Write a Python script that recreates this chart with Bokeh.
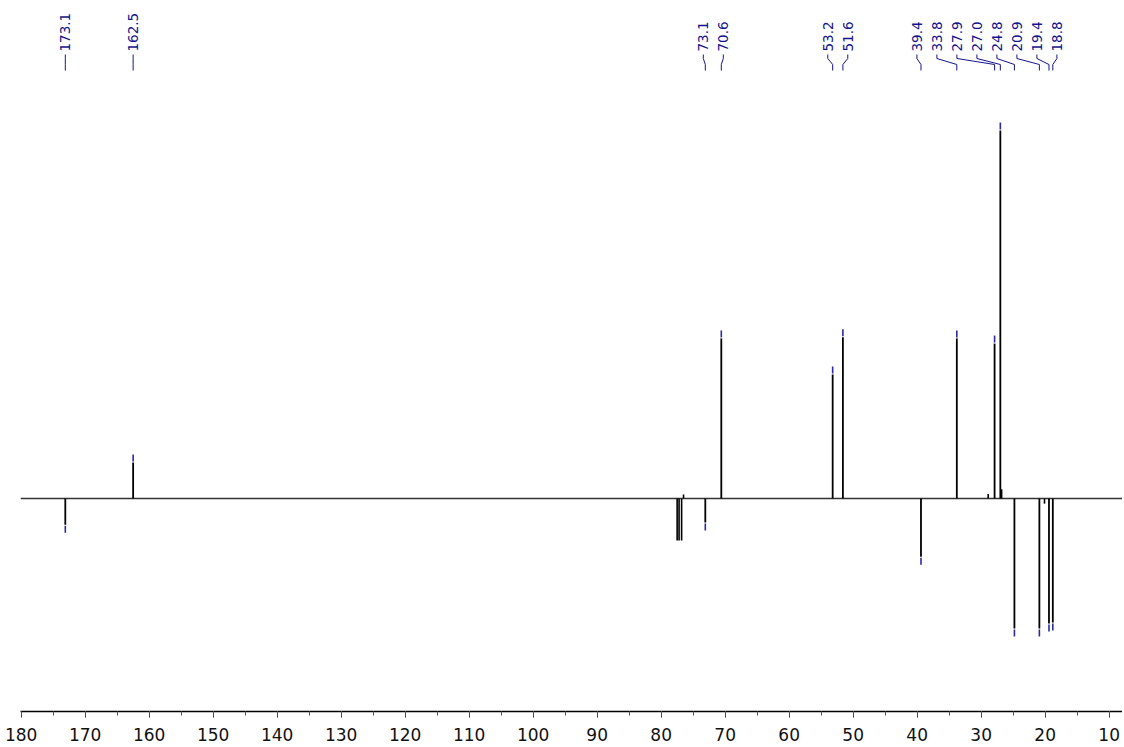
import math
from bokeh.plotting import figure
from bokeh.models import Range1d, SingleIntervalTicker
from bokeh.embed import file_html
from bokeh.resources import INLINE

# ---- data (ppm, relative intensity; tallest = 100) ----
peak_ppm = [173.1, 162.5, 73.1, 70.6, 53.2, 51.6, 39.4, 33.8, 27.9, 27.0, 24.8, 20.9, 19.4, 18.8]
peak_int = [-7.1, 9.8, -6.5, 43.5, 33.7, 43.8, -15.8, 43.5, 42.1, 100.0, -35.3, -35.3, -34.0, -33.7]

# solvent (CDCl3) and minor signals, unlabeled
minor_ppm = [77.5, 77.2, 76.8, 76.5, 28.9, 26.8, 20.1]
minor_int = [-11.4, -11.4, -11.4, 1.1, 1.2, 2.5, -1.4]

tick_labels = [180, 170, 160, 150, 140, 130, 120, 110, 100, 90, 80, 70, 60, 50, 40, 30, 20, 10]

# ---- layout ----
S = 3.68            # px per intensity unit
BASE_PY = 498       # page y of baseline
TOP_PY = 0          # page y of frame top
FRAME_H = 711
FRAME_W = 1102
LEFT = 20
X_START = 180.1
X_END = X_START - FRAME_W / 6.4


def py(v):
    return (BASE_PY - v) / S


p = figure(frame_width=FRAME_W, frame_height=FRAME_H,
           x_range=Range1d(X_START, X_END),
           y_range=Range1d(py(TOP_PY + FRAME_H), py(TOP_PY)),
           output_backend="svg", toolbar_location=None,
           min_border_left=LEFT, min_border_right=0, min_border_top=0, min_border_bottom=0,
           y_axis_location=None)
p.outline_line_color = None
p.xgrid.visible = False
p.ygrid.visible = False
p.background_fill_color = "white"

ax = p.xaxis[0]
ax.ticker = SingleIntervalTicker(interval=10, num_minor_ticks=2)
ax.major_label_overrides = {t: str(t) for t in tick_labels}
ax.axis_line_color = "black"
ax.axis_line_width = 1.3
ax.major_tick_line_color = "#333333"
ax.minor_tick_line_color = "#555555"
ax.major_tick_out = 6
ax.major_tick_in = 0
ax.minor_tick_out = 4
ax.minor_tick_in = 0
ax.major_label_standoff = 10
ax.major_label_text_font = "DejaVu Sans"
ax.major_label_text_font_size = "17px"
ax.major_label_text_color = "#111111"

# baseline
p.line([X_START, X_END], [0, 0], line_color="#333333", line_width=1.3)

# minor peaks
p.segment(x0=minor_ppm, y0=[0] * len(minor_ppm), x1=minor_ppm, y1=minor_int,
          line_color="black", line_width=1.6)
# main peaks
p.segment(x0=peak_ppm, y0=[0] * len(peak_ppm), x1=peak_ppm, y1=peak_int,
          line_color="black", line_width=1.8)

# peak-top markers
m0, m1 = [], []
for v in peak_int:
    sgn = 1 if v > 0 else -1
    m0.append(v + sgn * 1.0 / S)
    m1.append(v + sgn * 8.0 / S)
p.segment(x0=peak_ppm, y0=m0, x1=peak_ppm, y1=m1, line_color="#2a2aa8", line_width=1.6)

# label positions: spread overlapping labels
D = 20.0 / 6.4
groups = [[v] for v in sorted(peak_ppm, reverse=True)]
changed = True
while changed:
    changed = False
    for i in range(len(groups) - 1):
        a, b = groups[i], groups[i + 1]
        ca = (a[0] + a[-1]) / 2
        cb = (b[0] + b[-1]) / 2
        a_last = ca - (len(a) - 1) / 2 * D
        b_first = cb + (len(b) - 1) / 2 * D
        if a_last - b_first < 1.3 * D:
            groups[i] = a + b
            del groups[i + 1]
            changed = True
            break
label_pos = {}
for g in groups:
    c = (g[0] + g[-1]) / 2
    for k, v in enumerate(g):
        label_pos[v] = c + ((len(g) - 1) / 2 - k) * D

lx = [label_pos[v] for v in peak_ppm]
texts = [f"{v:.1f}" for v in peak_ppm]
p.text(x=lx, y=[py(51)] * len(lx), text=texts, angle=math.pi / 2,
       text_align="left", text_baseline="middle",
       text_font={"value": "DejaVu Sans"}, text_font_size="13.5px",
       text_color="#14148c")

xs, ys = [], []
for v, l in zip(peak_ppm, lx):
    xs.append([l, l, v, v])
    ys.append([py(54), py(58), py(64), py(70)])
p.multi_line(xs=xs, ys=ys, line_color="#14148c", line_width=1.0)

open("out.html", "w").write(file_html(p, INLINE))
